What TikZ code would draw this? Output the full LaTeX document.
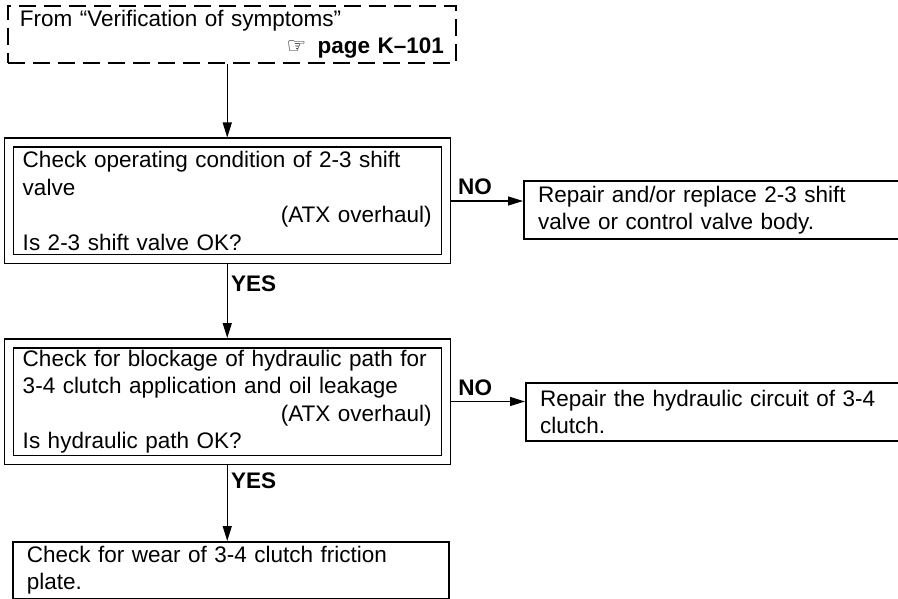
\documentclass[tikz,border=0pt]{standalone}
\usepackage{fontspec}
\setmainfont{Liberation Sans}
\newfontfamily\symfont{DejaVu Sans}
\usepackage{tikz}
\usetikzlibrary{arrows.meta,positioning}

\begin{document}
\begin{tikzpicture}[x=1pt, y=-1pt,
    every node/.style={font=\fontsize{22.5pt}{27.5pt}\selectfont},
    frombox/.style={rectangle, draw=black, line width=1.8pt, dash pattern=on 17pt off 8pt, anchor=north west, align=left, text width=424pt, inner xsep=12pt, minimum width=448pt, minimum height=57pt},
    dbox/.style={rectangle, draw=black, line width=1.5pt, double=white, double distance=7.5pt, anchor=north west, align=left, text width=409pt, inner xsep=14pt, minimum width=437pt, minimum height=116.5pt},
    fixbox/.style={rectangle, draw=black, line width=2.2pt, anchor=north west, align=left, text width=372pt, inner xsep=14pt, minimum width=400pt, minimum height=58pt},
    endbox/.style={rectangle, draw=black, line width=1.8pt, anchor=north west, align=left, text width=408pt, inner xsep=14pt, minimum width=436pt, minimum height=57pt},
    arr/.style={-{Triangle[length=15pt,width=9pt]}, line width=1.3pt},
    lbl/.style={font=\fontsize{22.5pt}{27.5pt}\selectfont\bfseries}
]
    \useasboundingbox (0,0) rectangle (898,599);

    \node[frombox] (from) at (7,5) {From “Verification of symptoms”\\ \makebox[\linewidth][r]{{\symfont\fontsize{22pt}{24pt}\selectfont ☞}\, \textbf{page K--101}}};

    \node[dbox] (chk1) at (8,142) {Check operating condition of 2-3 shift\\ valve\\ \makebox[\linewidth][r]{(ATX overhaul)}\\ Is 2-3 shift valve OK?};
    \node[fixbox] (fix1) at (523,180) {Repair and/or replace 2-3 shift\\ valve or control valve body.};

    \node[dbox] (chk2) at (8,342.5) {Check for blockage of hydraulic path for\\ 3-4 clutch application and oil leakage\\ \makebox[\linewidth][r]{(ATX overhaul)}\\ Is hydraulic path OK?};
    \node[fixbox] (fix2) at (525,382) {Repair the hydraulic circuit of 3-4\\ clutch.};

    \node[endbox] (chk3) at (12,541) {Check for wear of 3-4 clutch friction\\ plate.};

    % connectors
    \draw[arr, shorten >=4.5pt] (chk1.north |- from.south) -- (chk1.north);
    \draw[arr, shorten <=4.5pt, shorten >=4.5pt] (chk1.south) -- node[lbl, pos=0.29, anchor=west] {YES} (chk2.north);
    \draw[arr, shorten <=4.5pt] (chk2.south) -- node[lbl, pos=0.25, anchor=west] {YES} (chk2.south |- chk3.north);
    \draw[arr, shorten <=4.5pt] (chk1.east) -- node[lbl, pos=0.1, anchor=south west, yshift=2pt] {NO} (chk1.east -| fix1.west);
    \draw[arr, shorten <=4.5pt] (chk2.east) -- node[lbl, pos=0.1, anchor=south west, yshift=2pt] {NO} (chk2.east -| fix2.west);
\end{tikzpicture}
\end{document}
